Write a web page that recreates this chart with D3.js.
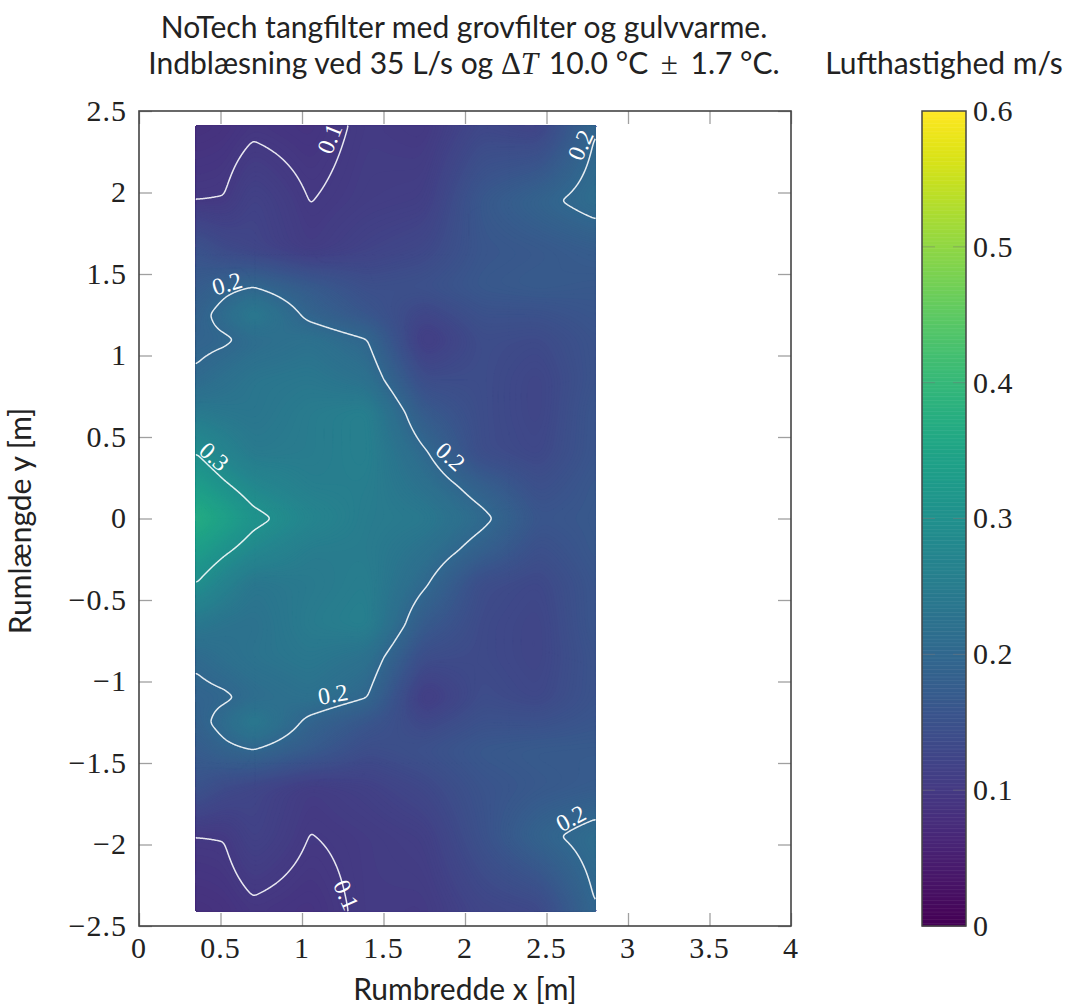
<!DOCTYPE html>
<html><head><meta charset="utf-8">
<script src="https://cdn.jsdelivr.net/npm/d3@7"></script>
<style>html,body{margin:0;padding:0;background:#fff}svg{display:block}
text{fill:#222}.s{font-family:Lato,"Noto Sans",sans-serif}.n{font-family:"Liberation Serif",serif}</style>
</head><body><svg id="c" width="1066" height="1007"></svg>
<script>
// measurement positions
const xPositions = [0.35, 0.525, 0.7, 1.05, 1.4, 1.75, 2.1, 2.45, 2.8];
const yPositions = [2.41, 1.95, 1.65, 1.42, 1.25, 1.1, 0.85, 0.65, 0.4, 0.2, 0,
                    -0.2, -0.4, -0.65, -0.85, -1.1, -1.25, -1.42, -1.65, -1.95, -2.41];
// air speed (m/s), one row per y position
const speedRows = [
  [.085,.088,.095,.090,.105,.100,.130,.120,.199],
  [.100,.101,.120,.0995,.108,.112,.165,.190,.215],
  [.155,.135,.125,.105,.120,.130,.160,.165,.175],
  [.172,.190,.200,.172,.145,.150,.165,.170,.165],
  [.185,.215,.250,.190,.160,.125,.150,.150,.160],
  [.190,.195,.210,.225,.200,.104,.140,.135,.155],
  [.206,.222,.235,.240,.225,.140,.140,.125,.155],
  [.245,.238,.235,.250,.260,.170,.140,.125,.160],
  [.300,.270,.245,.250,.260,.205,.140,.130,.160],
  [.335,.306,.280,.255,.255,.225,.1825,.145,.165],
  [.375,.345,.312,.275,.250,.245,.210,.160,.165],
  [.335,.306,.280,.250,.250,.225,.1825,.145,.165],
  [.300,.265,.235,.245,.255,.205,.140,.130,.160],
  [.240,.228,.225,.250,.260,.170,.135,.125,.160],
  [.206,.220,.230,.240,.225,.140,.135,.125,.155],
  [.190,.195,.210,.225,.200,.104,.140,.130,.155],
  [.185,.215,.250,.190,.160,.130,.150,.150,.160],
  [.172,.190,.200,.172,.140,.150,.165,.170,.170],
  [.155,.135,.125,.105,.115,.130,.155,.165,.172],
  [.100,.101,.120,.0995,.105,.112,.150,.190,.215],
  [.085,.088,.095,.090,.105,.103,.125,.130,.199]
];
const xTicks = [0, 0.5, 1, 1.5, 2, 2.5, 3, 3.5, 4];
const yTicks = [-2.5, -2, -1.5, -1, -0.5, 0, 0.5, 1, 1.5, 2, 2.5];
const colorTicks = [0, 0.1, 0.2, 0.3, 0.4, 0.5, 0.6];
const contourLevels = [0.1, 0.2, 0.3];
const labelValues = ["0.1","0.2","0.2","0.3","0.2","0.2","0.1","0.2"];
const labelX = [1.17, 2.71, 0.54, 0.46, 1.91, 1.19, 1.27, 2.65];
const labelY = [2.33, 2.29, 1.44, 0.38, 0.38, -1.08, -2.31, -1.84];
const labelAngle = [-68, -65, -17, 42, 42, -10, 66, -28];

const svg = d3.select("#c");
const x = d3.scaleLinear([0, 4], [139, 791]);
const y = d3.scaleLinear([-2.5, 2.5], [926, 111]);
const color = d3.scaleSequential([0, 0.6], d3.interpolateViridis);
const cy = d3.scaleLinear([0, 0.6], [926, 111]);

// ticks (behind the field)
const frame = "#444", tick = "#a0a0a0", tl = 13;
const ga = svg.append("g");
const axes = [
  [d3.axisBottom(x).tickValues(xTicks).tickSize(-tl), 0, 926],
  [d3.axisTop(x).tickValues(xTicks).tickSize(-tl), 0, 111],
  [d3.axisLeft(y).tickValues(yTicks).tickSize(-tl), 139, 0],
  [d3.axisRight(y).tickValues(yTicks).tickSize(-tl), 791, 0]
];
axes.forEach(([a, tx, ty]) => {
  const g = ga.append("g").attr("transform", `translate(${tx},${ty})`).call(a.tickFormat(""));
  g.select(".domain").remove();
  g.selectAll("line").attr("stroke", tick).attr("stroke-width", 1.3);
});

// field sampled on a fine grid from the table
const nx = 400, ny = 790;
const xi = d3.scaleLinear(xPositions, d3.range(xPositions.length)).clamp(true);
const yi = d3.scaleLinear(yPositions, d3.range(yPositions.length)).clamp(true);
const gx = d3.scaleLinear([0, nx], [x(0.35), x(2.8)]);
const gy = d3.scaleLinear([0, ny], [y(2.41), y(-2.41)]);
const raw = new Float64Array(nx * ny);
for (let j = 0; j < ny; j++) {
  const fy = yi(y.invert(gy(j + .5))), j0 = Math.min(Math.floor(fy), yPositions.length - 2), ty = fy - j0;
  for (let i = 0; i < nx; i++) {
    const fx = xi(x.invert(gx(i + .5))), i0 = Math.min(Math.floor(fx), xPositions.length - 2), tx = fx - i0;
    const a = speedRows[j0][i0], b = speedRows[j0][i0 + 1], c = speedRows[j0 + 1][i0], d = speedRows[j0 + 1][i0 + 1];
    raw[j * nx + i] = (a * (1 - tx) + b * tx) * (1 - ty) + (c * (1 - tx) + d * tx) * ty;
  }
}
const smooth = r => d3.blur2({data: Float64Array.from(raw), width: nx, height: ny}, r).data;
const proj = d3.geoTransform({point(px, py) { this.stream.point(gx(px), gy(py)); }});
const path = d3.geoPath(proj);

// filled bands
const fill = smooth(6);
const bands = d3.contours().size([nx, ny]).thresholds(d3.range(0.05, 0.42, 0.0015))(fill);
svg.append("g").selectAll("path").data(bands).join("path")
  .attr("d", path).attr("fill", d => color(d.value)).attr("stroke", d => color(d.value)).attr("stroke-width", .3);

// contour lines
const lineData = smooth(1.5);
const onEdge = p => p[0] <= 0 || p[0] >= nx || p[1] <= 0 || p[1] >= ny;
const line = d3.line().x(p => gx(p[0])).y(p => gy(p[1]));
const gl = svg.append("g");
d3.contours().size([nx, ny]).thresholds(contourLevels)(lineData).forEach(level => {
  level.coordinates.forEach(poly => poly.forEach(ring => {
    let chunk = [];
    const flush = () => { if (chunk.length > 1) gl.append("path").attr("d", line(chunk)).attr("fill", "none").attr("stroke", "#fff").attr("stroke-opacity", .88).attr("stroke-width", 1.5); chunk = []; };
    ring.forEach((p, k) => {
      if (k && onEdge(p) && onEdge(ring[k - 1])) flush();
      chunk.push(p);
    });
    flush();
  }));
});

// contour labels
svg.append("g").selectAll("text").data(labelValues).join("text")
  .attr("class", "n").attr("text-anchor", "middle").style("fill", "#fff").attr("font-size", 24)
  .attr("transform", (d, k) => `translate(${x(labelX[k])},${y(labelY[k])}) rotate(${labelAngle[k]})`)
  .attr("dy", "0.33em").text(d => d);

// frame
svg.append("rect").attr("x", 139).attr("y", 111).attr("width", 652).attr("height", 815)
  .attr("fill", "none").attr("stroke", frame).attr("stroke-width", 1.6);

const fmt = v => String(v).replace("-", "\u2212");
svg.append("g").selectAll("text").data(xTicks).join("text").attr("class", "n")
  .attr("x", d => x(d)).attr("y", 958).attr("text-anchor", "middle").attr("font-size", 30)
  .attr("letter-spacing", 1).text(fmt);
svg.append("g").selectAll("text").data(yTicks).join("text").attr("class", "n")
  .attr("x", 127).attr("y", d => y(d)).attr("dy", "0.33em").attr("text-anchor", "end").attr("font-size", 30)
  .attr("letter-spacing", 1).text(fmt);

// colour bar
const barStops = d3.range(0, 0.6, 0.001);
svg.append("g").selectAll("rect").data(barStops).join("rect")
  .attr("x", 922).attr("width", 44).attr("y", d => cy(d + 0.001)).attr("height", d => cy(d) - cy(d + 0.001) + .5)
  .attr("fill", d => color(d + 0.0005));
const gb = svg.append("g");
gb.selectAll("line.l").data(colorTicks.slice(1, -1)).join("line").attr("class", "l")
  .attr("x1", 922).attr("x2", 935).attr("y1", d => cy(d)).attr("y2", d => cy(d)).attr("stroke", "#777").attr("stroke-opacity", .45);
gb.selectAll("line.r").data(colorTicks.slice(1, -1)).join("line").attr("class", "r")
  .attr("x1", 953).attr("x2", 966).attr("y1", d => cy(d)).attr("y2", d => cy(d)).attr("stroke", "#777").attr("stroke-opacity", .45);
svg.append("rect").attr("x", 922).attr("y", 111).attr("width", 44).attr("height", 815)
  .attr("fill", "none").attr("stroke", frame).attr("stroke-width", 1.5);
svg.append("g").selectAll("text").data(colorTicks).join("text").attr("class", "n")
  .attr("x", 973).attr("y", d => cy(d)).attr("dy", "0.33em").attr("font-size", 30).attr("letter-spacing", 1).text(d => d);

// titles
const fs = 30;
svg.append("text").attr("class", "s").attr("x", 464).attr("y", 38).attr("text-anchor", "middle")
  .attr("font-size", fs).text("NoTech tangfilter med grovfilter og gulvvarme.");
const t2 = svg.append("text").attr("class", "s").attr("x", 464).attr("y", 74).attr("text-anchor", "middle").attr("font-size", fs);
t2.append("tspan").text("Indblæsning ved 35 L/s og ");
t2.append("tspan").attr("class", "n").attr("font-size", 31).text("Δ");
t2.append("tspan").attr("class", "n").attr("font-style", "italic").attr("font-size", 31).text("T");
t2.append("tspan").attr("dx", 3).text(" 10.0 °C ");
t2.append("tspan").attr("class", "n").attr("font-size", 31).attr("dx", 5).text("±");
t2.append("tspan").attr("dx", 5).text(" 1.7 °C.");
svg.append("text").attr("class", "s").attr("x", 944).attr("y", 74).attr("text-anchor", "middle")
  .attr("font-size", fs).text("Lufthastighed m/s");
svg.append("text").attr("class", "s").attr("x", 465).attr("y", 1000).attr("text-anchor", "middle")
  .attr("font-size", fs).text("Rumbredde x [m]");
svg.append("text").attr("class", "s").attr("transform", "translate(31,521) rotate(-90)").attr("text-anchor", "middle")
  .attr("font-size", fs).text("Rumlængde y [m]");
</script></body></html>
